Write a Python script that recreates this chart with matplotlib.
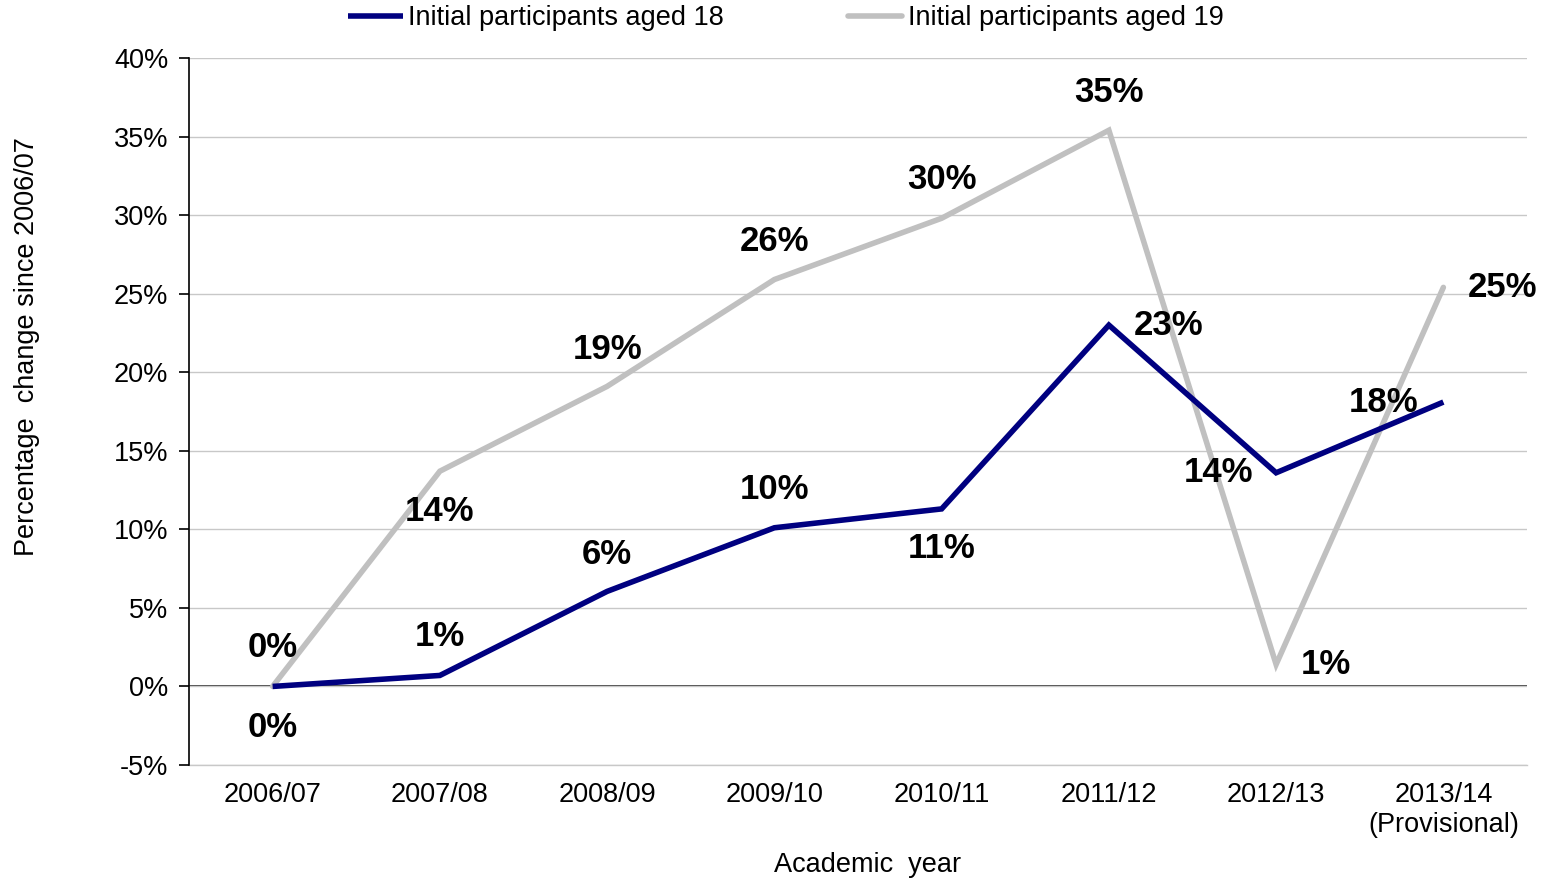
import matplotlib
matplotlib.use("Agg")
import matplotlib.pyplot as plt
import numpy as np

plt.rcParams['font.family'] = ['Liberation Sans', 'DejaVu Sans']

categories = ["2006/07", "2007/08", "2008/09", "2009/10", "2010/11",
              "2011/12", "2012/13", "2013/14\n(Provisional)"]
aged18 = [0.0, 0.7, 6.05, 10.1, 11.3, 23.0, 13.6, 18.1]
aged19 = [0.0, 13.7, 19.1, 25.9, 29.8, 35.4, 1.4, 25.4]
series_names = ["Initial participants aged 18", "Initial participants aged 19"]
yticks = [-5, 0, 5, 10, 15, 20, 25, 30, 35, 40]

# label offsets in pixels (dx, dy)
off18 = [(0, -41), (0, 39), (0, 37), (0, 38), (0, -40), (60, 0), (-58, 0), (-60, 0)]
off19 = [(0, 39), (0, -40), (0, 37), (0, 38), (0, 39), (0, 38), (50, 0), (59, 0)]

fig = plt.figure(figsize=(15.42, 8.8), dpi=100)
ax = fig.add_axes([189/1542, 1-765/880, (1527-189)/1542, (765-58)/880])

x = np.arange(len(categories))
ax.set_xlim(-0.5, len(categories) - 0.5)
ax.set_ylim(-5, 40)

ax.set_yticks(yticks)
ax.set_yticklabels([f"{t}%" for t in yticks])
ax.set_xticks(x)
ax.set_xticklabels(categories)

ax.grid(axis='y', color='#c8c8c8', linewidth=1.0, zorder=0)
ax.axhline(-5, color='#c8c8c8', linewidth=1.0, zorder=0, clip_on=False)
ax.axhline(0, color='#303030', linewidth=1.3, zorder=1)
for s in ['top', 'right', 'bottom']:
    ax.spines[s].set_visible(False)
ax.spines['left'].set_color('#000000')
ax.spines['left'].set_linewidth(1.2)

ax.tick_params(axis='y', length=7, width=1.2, pad=8, labelsize=19.5, direction='out')
ax.tick_params(axis='x', length=0, pad=12, labelsize=19.5)

l18, = ax.plot(x, aged18, color='#000080', linewidth=4.0, solid_joinstyle='miter',
               solid_capstyle='butt', zorder=3)
l19, = ax.plot(x, aged19, color='#c0c0c0', linewidth=4.0, solid_joinstyle='miter',
               solid_capstyle='round', zorder=2)

for xi, v, o in zip(x, aged18, off18):
    ax.annotate(f"{round(v):.0f}%", (xi, v), xytext=o, textcoords='offset pixels',
                ha='center', va='center', fontsize=25, fontweight='bold', zorder=5)
for xi, v, o in zip(x, aged19, off19):
    ax.annotate(f"{round(v):.0f}%", (xi, v), xytext=o, textcoords='offset pixels',
                ha='center', va='center', fontsize=25, fontweight='bold', zorder=5,
                annotation_clip=False)

ax.set_ylabel("Percentage  change since 2006/07", fontsize=19.5)
ax.yaxis.set_label_coords((27-189)/1338, (765-347)/707)
ax.set_xlabel("Academic  year", fontsize=19.5)
ax.xaxis.set_label_coords((868-189)/1338, (765-865)/707)
ax.xaxis.label.set_va('center')
ax.yaxis.label.set_va('center')

fig.legend([l18, l19], series_names, loc='center', bbox_to_anchor=(786/1542, 1-18/880),
           ncol=2, frameon=False, fontsize=19.5, handlelength=2.0, handletextpad=0.2,
           columnspacing=4.6, borderaxespad=0)

fig.savefig("out.png", dpi=100)
